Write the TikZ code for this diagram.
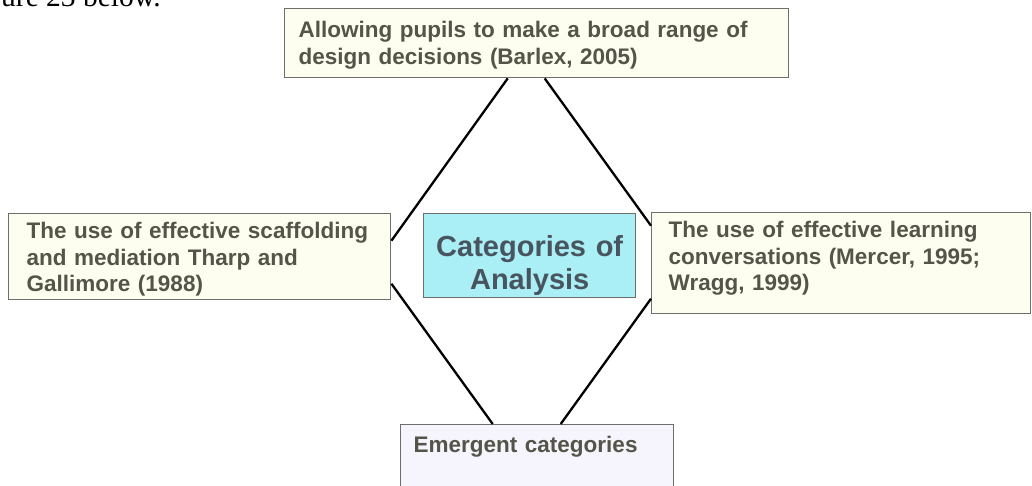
\documentclass[tikz,border=0pt]{standalone}
\usepackage{fontspec}
\setmainfont{Liberation Sans}
\newfontfamily\pageserif{Liberation Serif}
\definecolor{panelline}{RGB}{110,110,106}
\definecolor{panelfill}{RGB}{253,253,240}
\definecolor{emergefill}{RGB}{246,244,252}
\definecolor{corefill}{RGB}{170,238,246}
\definecolor{paneltext}{RGB}{84,84,72}
\definecolor{coretext}{RGB}{72,84,94}
\newcommand{\pad}[2]{\vrule width 0pt height #1 depth #2\relax}
\tikzset{
  panel/.style={draw=panelline, line width=1.4pt, fill=panelfill, anchor=north west,
    inner xsep=#1, inner ysep=0pt, align=left, text=paneltext,
    font=\bfseries\fontsize{22.5}{26.5}\selectfont},
  link/.style={line width=2.3pt, black}
}
\begin{document}
\begin{tikzpicture}[x=1pt,y=-1pt]
\useasboundingbox (0,0) rectangle (1032,486);
\clip (0,0) rectangle (1032,486);

% Cut-off line of the page text
\node[anchor=base west, inner sep=0pt, font=\pageserif\fontsize{29.5}{32}\selectfont] (figref) at (1,7) {ure 23 below.};

% Outer boxes
\node[panel=14pt, text width=476pt, minimum width=504pt, minimum height=69pt] (barlex) at (284,8)
  {\pad{20pt}{0pt}Allowing pupils to make a broad range of\\design decisions (Barlex, 2005)};
\node[panel=18pt, text width=346pt, minimum width=382pt, minimum height=86pt] (tharp) at (8,213)
  {\pad{21.7pt}{0pt}The use of effective scaffolding\\and mediation Tharp and\\Gallimore (1988)};
\node[panel=17pt, text width=345pt, minimum width=379pt, minimum height=101pt] (mercer) at (651,212)
  {The use of effective learning\\conversations (Mercer, 1995;\\Wragg, 1999)\pad{0pt}{14.5pt}};
\node[panel=13pt, text width=247pt, minimum width=273pt, minimum height=80pt, fill=emergefill] (emergent) at (400,424)
  {Emergent categories\pad{0pt}{40.5pt}};

% Centre box
\node[panel=6pt, text width=200pt, minimum width=212pt, minimum height=84pt, fill=corefill,
  align=center, text=coretext, font=\bfseries\fontsize{29}{33}\selectfont] (core) at (423,213)
  {\pad{41pt}{0pt}Categories of\\Analysis};

% Connectors
\draw[link] ([xshift=-29pt]barlex.south) -- ([yshift=16pt]tharp.east);
\draw[link] ([xshift=8pt]barlex.south) -- ([yshift=37.5pt]mercer.west);
\draw[link] ([yshift=-27pt]tharp.east) -- ([xshift=-44.5pt]emergent.north);
\draw[link] ([yshift=-35.5pt]mercer.west) -- ([xshift=23.5pt]emergent.north);
\end{tikzpicture}
\end{document}
